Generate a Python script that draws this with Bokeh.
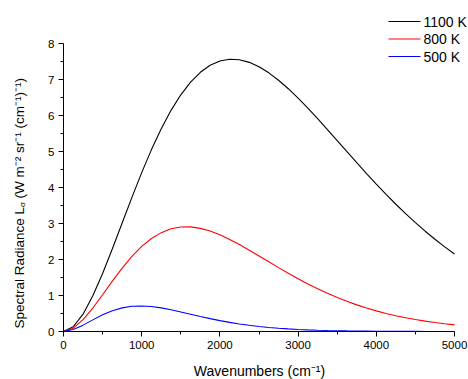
import math
from bokeh.plotting import figure
from bokeh.models import Range1d, FixedTicker, Label
from bokeh.core.properties import value
from bokeh.embed import file_html
from bokeh.resources import INLINE

# Wavenumbers (cm^-1)
wavenumber = [0, 125, 250, 375, 500, 625, 750, 875, 1000, 1125, 1250, 1375, 1500, 1625,
              1750, 1875, 2000, 2125, 2250, 2375, 2500, 2625, 2750, 2875, 3000, 3125,
              3250, 3375, 3500, 3625, 3750, 3875, 4000, 4125, 4250, 4375, 4500, 4625,
              4750, 4875, 5000]

# Spectral radiance, W m^-2 sr^-1 (cm^-1)^-1
radiance_1100 = [0.0, 0.131, 0.481, 0.992, 1.612, 2.299, 3.014, 3.727, 4.413, 5.053,
                 5.633, 6.143, 6.575, 6.928, 7.200, 7.394, 7.514, 7.563, 7.548, 7.476,
                 7.352, 7.185, 6.979, 6.744, 6.483, 6.203, 5.910, 5.608, 5.301, 4.994,
                 4.688, 4.388, 4.094, 3.810, 3.535, 3.274, 3.023, 2.786, 2.562, 2.351,
                 2.153]
radiance_800 = [0.0, 0.092, 0.328, 0.652, 1.021, 1.400, 1.761, 2.086, 2.363, 2.584,
                2.746, 2.852, 2.903, 2.906, 2.865, 2.790, 2.685, 2.558, 2.414, 2.259,
                2.099, 1.936, 1.774, 1.617, 1.466, 1.322, 1.187, 1.061, 0.944, 0.838,
                0.740, 0.652, 0.573, 0.502, 0.438, 0.382, 0.332, 0.288, 0.249, 0.215,
                0.185]
radiance_500 = [0.0, 0.054, 0.177, 0.323, 0.463, 0.577, 0.656, 0.700, 0.710, 0.693,
                0.656, 0.604, 0.544, 0.481, 0.418, 0.358, 0.303, 0.253, 0.210, 0.172,
                0.140, 0.113, 0.091, 0.072, 0.057, 0.045, 0.036, 0.028, 0.022, 0.017,
                0.013, 0.010, 0.008, 0.006, 0.004, 0.003, 0.003, 0.002, 0.001, 0.001,
                0.001]

series_labels = ["1100 K", "800 K", "500 K"]
series_colors = ["#000000", "#ff0000", "#0000ff"]

x_ticks = [0, 1000, 2000, 3000, 4000, 5000]
x_minor = [500, 1500, 2500, 3500, 4500]
y_ticks = [0, 1, 2, 3, 4, 5, 6, 7, 8]
y_minor = [0.5, 1.5, 2.5, 3.5, 4.5, 5.5, 6.5, 7.5]
x_lo, x_hi = 0, 5000
y_lo, y_hi = 0, 8

FONT = "Liberation Sans"
W, H = 468, 379
# pixel placement of the data box inside the canvas
PX_LEFT, PX_RIGHT, PX_TOP, PX_BOTTOM = 63, 454, 43, 331

# The frame covers the whole canvas; axes sit at fixed data locations so that
# legend and titles outside the data box are not clipped.
kx = (x_hi - x_lo) / (PX_RIGHT - PX_LEFT)
ky = (y_hi - y_lo) / (PX_BOTTOM - PX_TOP)
xr = Range1d(x_lo - PX_LEFT * kx, x_hi + (W - PX_RIGHT) * kx)
yr = Range1d(y_lo - (H - PX_BOTTOM) * ky, y_hi + PX_TOP * ky)


def px_to_x(px):
    return x_lo + (px - PX_LEFT) * kx


def py_to_y(py):
    return y_lo + (PX_BOTTOM - py) * ky


p = figure(width=W, height=H, output_backend="svg", toolbar_location=None,
           x_range=xr, y_range=yr,
           min_border_left=0, min_border_right=0, min_border_top=0, min_border_bottom=0)
p.outline_line_color = None
p.xgrid.visible = False
p.ygrid.visible = False
p.background_fill_color = "white"
p.border_fill_color = "white"

for ys, c in zip([radiance_1100, radiance_800, radiance_500], series_colors):
    p.line(wavenumber, ys, line_color=c, line_width=1.1)

# axes
p.xaxis.ticker = FixedTicker(ticks=x_ticks, minor_ticks=x_minor)
p.yaxis.ticker = FixedTicker(ticks=y_ticks, minor_ticks=y_minor)
p.xaxis.fixed_location = y_lo
p.yaxis.fixed_location = x_lo
p.xaxis.bounds = (x_lo, x_hi)
p.yaxis.bounds = (y_lo, y_hi)
for ax in (p.xaxis[0], p.yaxis[0]):
    ax.axis_line_color = "black"
    ax.axis_line_width = 1
    ax.major_tick_line_color = "black"
    ax.minor_tick_line_color = "black"
    ax.major_label_text_font = FONT
    ax.major_label_text_font_size = "11.5px"
    ax.major_label_text_color = "black"
    ax.major_label_standoff = 4
    ax.major_tick_in = 0
    ax.major_tick_out = 5
    ax.minor_tick_in = 0
    ax.minor_tick_out = 3

# x-axis title
p.add_layout(Label(x=259, y=9, x_units="screen", y_units="screen",
                   text="Wavenumbers (cm\u207b\u00b9)", text_align="center",
                   text_baseline="alphabetic", text_font=FONT, text_font_size="14px",
                   text_color="black"))

# y-axis title, built from pieces so that sigma can be a subscript
ylab_font = "13.5px"
pieces = [
    ("Spectral Radiance L", 19, 51, ylab_font),
    ("\u03c3", 22, 172.5, "8px"),
    ("(W m\u207b\u00b2 sr\u207b\u00b9 (cm\u207b\u00b9)\u207b\u00b9)", 19, 181, ylab_font),
]
for txt, sx, sy, fs in pieces:
    p.add_layout(Label(x=sx, y=sy, x_units="screen", y_units="screen", text=txt,
                       angle=math.pi / 2, text_align="left", text_baseline="alphabetic",
                       text_font=FONT, text_font_size=fs, text_color="black"))

# legend (key line + label per series), placed above the top-right of the data box
LEG_X0, LEG_X1, LEG_TEXT_X = 388, 420, 423
LEG_ROWS = [21, 38.5, 56]
for lab, c, row in zip(series_labels, series_colors, LEG_ROWS):
    p.line([px_to_x(LEG_X0), px_to_x(LEG_X1)], [py_to_y(row), py_to_y(row)],
           line_color=c, line_width=1.1)
    p.text([px_to_x(LEG_TEXT_X)], [py_to_y(row)], text=[lab], text_align="left",
           text_baseline="middle", text_font=value(FONT), text_font_size="14px",
           text_color="black")

open("out.html", "w").write(file_html(p, INLINE))
